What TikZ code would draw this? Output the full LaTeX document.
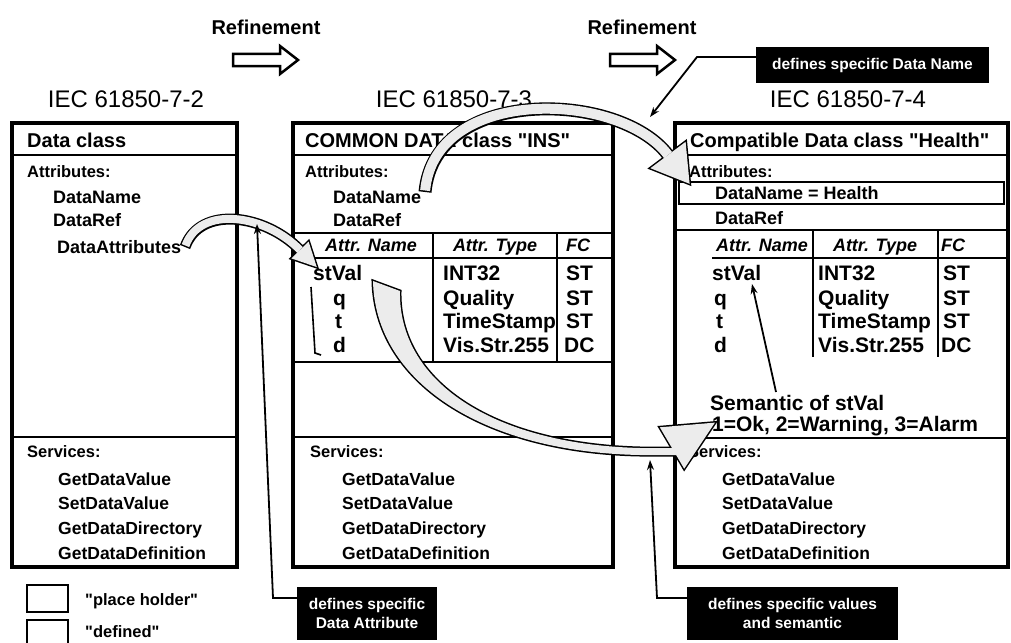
\documentclass[tikz,border=0pt]{standalone}
\usepackage{fontspec}
\setmainfont{Liberation Sans}
\usetikzlibrary{arrows.meta}
\begin{document}
\begin{tikzpicture}[x=1pt,y=-1pt,
  outer/.style={line width=4pt},
  sepline/.style={line width=2.5pt},
  tabline/.style={line width=2.2pt},
  txt/.style={inner sep=0pt, text depth=0pt},
  attr/.style={txt, text height=13pt, anchor=west, font=\bfseries\fontsize{18}{20}\selectfont},
  serv/.style={txt, text height=12.6pt, anchor=west, font=\bfseries\fontsize{17.5}{20}\selectfont},
  sect/.style={txt, text height=11.9pt, anchor=west, font=\bfseries\fontsize{16.5}{20}\selectfont},
  ttl/.style={txt, text height=14.4pt, anchor=west, font=\bfseries\fontsize{20}{22}\selectfont},
  cell/.style={txt, text height=15.1pt, anchor=west, font=\bfseries\fontsize{21}{23}\selectfont},
  head/.style={txt, text height=13pt, anchor=center, font=\bfseries\itshape\fontsize{18}{20}\selectfont},
  iec/.style={txt, text height=17.3pt, anchor=center, font=\fontsize{24}{26}\selectfont},
  refl/.style={txt, text height=14.4pt, anchor=center, font=\bfseries\fontsize{20}{22}\selectfont},
  lbl/.style={fill=black, text=white, align=center, inner sep=0pt,
              font=\bfseries\fontsize{15.5}{19}\selectfont},
  leg/.style={txt, text height=11.9pt, anchor=west, font=\bfseries\fontsize{16.5}{20}\selectfont},
  lead/.style={line width=1.8pt, -{Stealth[length=10pt,width=7pt]}},
  blk/.style={line width=3pt, draw=black, fill=gray!15},
  blkfill/.style={fill=gray!15},
  hollow/.style={line width=2.5pt, draw=black, fill=white, line join=miter}
]
\useasboundingbox (0,0) rectangle (1011,642);
\fill[white] (0,0) rectangle (1011,642);

% ---------- headings ----------
\node[refl] (ref1) at (266,27) {Refinement};
\node[refl] (ref2) at (642,27) {Refinement};
\draw[hollow] (233,54) -- (280,54) -- (280,46) -- (298,60) -- (280,74) -- (280,66) -- (233,66) -- cycle;
\draw[hollow] (610,54) -- (657,54) -- (657,46) -- (675,60) -- (657,74) -- (657,66) -- (610,66) -- cycle;
\node[iec] (iec2) at (126,99) {IEC 61850-7-2};
\node[iec] (iec3) at (454,99) {IEC 61850-7-3};
\node[iec] (iec4) at (848,99) {IEC 61850-7-4};

% ---------- box 1 ----------
\draw[outer] (12,123) rectangle (237,567);
\draw[sepline] (12,155) -- (237,155);
\draw[sepline] (12,437) -- (237,437);
\node[ttl] (t1) at (27,140) {Data class};
\node[sect] (a1) at (27,172) {Attributes:};
\node[attr] (dn1) at (53,197) {DataName};
\node[attr] (dr1) at (53,220) {DataRef};
\node[attr] (da1) at (57,247) {DataAttributes};
\node[sect] (s1) at (27,452) {Services:};
\node[serv] (g1a) at (58,479) {GetDataValue};
\node[serv] (g1b) at (58,503) {SetDataValue};
\node[serv] (g1c) at (58,528) {GetDataDirectory};
\node[serv] (g1d) at (58,553) {GetDataDefinition};

% ---------- box 2 ----------
\draw[outer] (293,123) rectangle (613,567);
\draw[sepline] (293,155) -- (613,155);
\draw[sepline] (293,437) -- (613,437);
\draw[tabline] (293,233) -- (613,233);
\draw[tabline] (293,258) -- (613,258);
\draw[tabline] (293,362) -- (613,362);
\draw[tabline] (433,233) -- (433,362);
\draw[tabline] (557,233) -- (557,362);
\node[ttl] (t2) at (305,140) {COMMON DATA class \textquotedbl INS\textquotedbl};
\node[sect] (a2) at (305,172) {Attributes:};
\node[attr] (dn2) at (333,197) {DataName};
\node[attr] (dr2) at (333,220) {DataRef};
\node[head] (h2a) at (371,245) {Attr. Name};
\node[head] (h2b) at (495,245) {Attr. Type};
\node[head] (h2c) at (578,245) {FC};
\node[cell] (sv2) at (313,273) {stVal};
\node[cell] (q2) at (333,298) {q};
\node[cell] (tt2) at (335,321) {t};
\node[cell] (d2) at (333,345) {d};
\node[cell] (ty2a) at (443,273) {INT32};
\node[cell] (ty2b) at (443,298) {Quality};
\node[cell] (ty2c) at (443,321) {TimeStamp};
\node[cell] (ty2d) at (443,345) {Vis.Str.255};
\node[cell] (fc2a) at (566,273) {ST};
\node[cell] (fc2b) at (566,298) {ST};
\node[cell] (fc2c) at (566,321) {ST};
\node[cell] (fc2d) at (564,345) {DC};
\draw[line width=1.6pt] (311,287) -- (315,353) -- (321,355);
\node[sect] (s2) at (310,452) {Services:};
\node[serv] (g2a) at (342,479) {GetDataValue};
\node[serv] (g2b) at (342,503) {SetDataValue};
\node[serv] (g2c) at (342,528) {GetDataDirectory};
\node[serv] (g2d) at (342,553) {GetDataDefinition};

% ---------- box 3 ----------
\draw[outer] (675,123) rectangle (1008,567);
\draw[sepline] (675,155) -- (1008,155);
\draw[sepline] (675,438) -- (1008,438);
\draw[tabline] (679,182) rectangle (1004,204);
\draw[tabline] (675,230) -- (1008,230);
\draw[tabline] (712,258) -- (1008,258);
\draw[tabline] (813,230) -- (813,357);
\draw[tabline] (938,230) -- (938,357);
\node[ttl] (t3) at (690,140) {Compatible Data class \textquotedbl Health\textquotedbl};
\node[sect] (a3) at (689,172) {Attributes:};
\node[attr] (dn3) at (715,193) {DataName = Health};
\node[attr] (dr3) at (715,218) {DataRef};
\node[head] (h3a) at (762,245) {Attr. Name};
\node[head] (h3b) at (875,245) {Attr. Type};
\node[head] (h3c) at (953,245) {FC};
\node[cell] (sv3) at (712,273) {stVal};
\node[cell] (q3) at (714,298) {q};
\node[cell] (tt3) at (716,321) {t};
\node[cell] (d3) at (714,345) {d};
\node[cell] (ty3a) at (818,273) {INT32};
\node[cell] (ty3b) at (818,298) {Quality};
\node[cell] (ty3c) at (818,321) {TimeStamp};
\node[cell] (ty3d) at (818,345) {Vis.Str.255};
\node[cell] (fc3a) at (943,273) {ST};
\node[cell] (fc3b) at (943,298) {ST};
\node[cell] (fc3c) at (943,321) {ST};
\node[cell] (fc3d) at (941,345) {DC};
\node[cell] (sem1) at (710,403) {Semantic of stVal};
\node[cell] (sem2) at (712,424) {1=Ok, 2=Warning, 3=Alarm};
\node[sect] (s3) at (688,452) {Services:};
\node[serv] (g3a) at (722,479) {GetDataValue};
\node[serv] (g3b) at (722,503) {SetDataValue};
\node[serv] (g3c) at (722,528) {GetDataDirectory};
\node[serv] (g3d) at (722,553) {GetDataDefinition};

% ---------- big block arrows ----------
% arrow 1: DataAttributes -> stVal
\draw[line width=11pt] (185,247) .. controls (200,205) and (265,214) .. (300,250);
\filldraw[blk] (308.6,241.6) -- (316.8,267.1) -- (291.4,258.4) -- cycle;
\draw[line width=8pt, gray!15, shorten <=1.5pt] (185,247) .. controls (200,205) and (265,214) .. (300,250);
\fill[blkfill] (308.6,241.6) -- (316.8,267.1) -- (291.4,258.4) -- cycle;

% arrow 2: DataName -> DataName = Health
\draw[line width=13pt] (425,192) .. controls (435,85) and (620,91) .. (668,155);
\filldraw[blk] (685.6,141.8) -- (689.6,183.8) -- (650.4,168.2) -- cycle;
\draw[line width=10pt, gray!15, shorten <=1.5pt] (425,192) .. controls (435,85) and (620,91) .. (668,155);
\fill[blkfill] (685.6,141.8) -- (689.6,183.8) -- (650.4,168.2) -- cycle;

% arrow 3: stVal -> semantic (tapering)
\filldraw[blk] (373,281) .. controls (375,380) and (480,452) .. (640,455) -- (680,455) -- (680,448) -- (640,448) .. controls (490,444) and (398,380) .. (400,291) -- cycle;
\filldraw[blk] (659.8,427.3) -- (715,422.6) -- (684.2,468.7) -- cycle;
\fill[blkfill] (373,281) .. controls (375,380) and (480,452) .. (640,455) -- (680,455) -- (680,448) -- (640,448) .. controls (490,444) and (398,380) .. (400,291) -- cycle;
\fill[blkfill] (659.8,427.3) -- (715,422.6) -- (684.2,468.7) -- cycle;

% ---------- black labels and leaders ----------
\node[lbl, minimum width=233pt, minimum height=36pt] (lblName) at (872.5,65) {defines specific Data Name};
\node[lbl, minimum width=140pt, minimum height=53pt] (lblAttr) at (367,613.5) {defines specific\\Data Attribute};
\node[lbl, minimum width=211pt, minimum height=53pt] (lblVal) at (792.5,613.5) {defines specific values\\and semantic};

\coordinate (nameBend) at (697,57);
\coordinate (nameTip) at (650,117);
\draw[lead] (lblName.west |- nameBend) -- (nameBend) -- (nameTip);

\coordinate (attrBend) at (273,598);
\coordinate (attrTip) at (257,224);
\draw[lead] (lblAttr.west |- attrBend) -- (attrBend) -- (attrTip);

\coordinate (valBend) at (657,598);
\coordinate (valTip) at (650,460);
\draw[lead] (lblVal.west |- valBend) -- (valBend) -- (valTip);

\coordinate (semStart) at (776,392);
\coordinate (semTip) at (752,284);
\draw[lead] (semStart) -- (semTip);

% ---------- legend ----------
\draw[sepline] (27,585) rectangle (68,612);
\draw[sepline] (27,620) rectangle (68,648);
\node[leg] (leg1) at (85,600) {\textquotedbl place holder\textquotedbl};
\node[leg] (leg2) at (85,632) {\textquotedbl defined\textquotedbl};
\end{tikzpicture}
\end{document}
